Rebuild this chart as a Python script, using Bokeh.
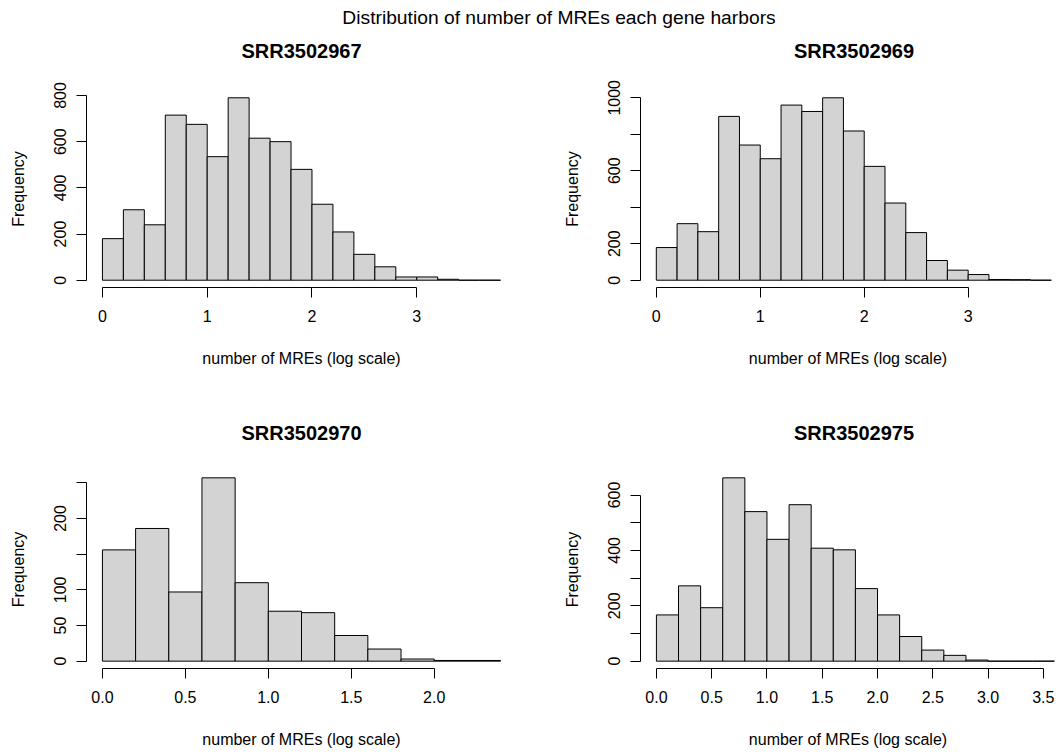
from bokeh.plotting import figure
from bokeh.layouts import column, row
from bokeh.models import FixedTicker, Range1d, NumeralTickFormatter, ColumnDataSource, Label
from bokeh.embed import file_html
from bokeh.resources import INLINE

MAIN_TITLE = "Distribution of number of MREs each gene harbors"
X_LABEL = "number of MREs (log scale)"
Y_LABEL = "Frequency"
SAMPLES = ["SRR3502967", "SRR3502969", "SRR3502970", "SRR3502975"]

# histogram bin edges (log10 scale) and counts
EDGES_1 = [0.0, 0.2, 0.4, 0.6, 0.8, 1.0, 1.2, 1.4, 1.6, 1.8, 2.0, 2.2, 2.4, 2.6, 2.8, 3.0, 3.2, 3.4, 3.6, 3.8]
COUNTS_1 = [180, 305, 240, 715, 675, 535, 790, 615, 600, 480, 329, 209, 112, 58, 14, 14, 4, 0, 0]

EDGES_2 = [0.0, 0.2, 0.4, 0.6, 0.8, 1.0, 1.2, 1.4, 1.6, 1.8, 2.0, 2.2, 2.4, 2.6, 2.8, 3.0, 3.2, 3.4, 3.6, 3.8]
COUNTS_2 = [179, 310, 266, 898, 741, 666, 960, 925, 1000, 818, 624, 423, 261, 108, 55, 31, 4, 3, 0]

EDGES_3 = [0.0, 0.2, 0.4, 0.6, 0.8, 1.0, 1.2, 1.4, 1.6, 1.8, 2.0, 2.2, 2.4]
COUNTS_3 = [156, 186, 97, 257, 110, 70, 68, 36, 17, 3, 1, 1]

EDGES_4 = [0.0, 0.2, 0.4, 0.6, 0.8, 1.0, 1.2, 1.4, 1.6, 1.8, 2.0, 2.2, 2.4, 2.6, 2.8, 3.0, 3.2, 3.4, 3.6]
COUNTS_4 = [167, 272, 193, 662, 540, 440, 565, 408, 402, 262, 167, 89, 40, 21, 4, 0, 0, 0]

X_TICKS_1 = [0, 1, 2, 3]
X_TICKS_2 = [0, 1, 2, 3]
X_TICKS_3 = [0.0, 0.5, 1.0, 1.5, 2.0]
X_TICKS_4 = [0.0, 0.5, 1.0, 1.5, 2.0, 2.5, 3.0, 3.5]

Y_TICKS_1 = [0, 200, 400, 600, 800]
Y_TICKS_2 = [0, 200, 400, 600, 800, 1000]
Y_TICKS_3 = [0, 50, 100, 150, 200, 250]
Y_TICKS_4 = [0, 100, 200, 300, 400, 500, 600]

# y tick labels that R dropped because they would overlap
Y_HIDDEN_1 = []
Y_HIDDEN_2 = [400, 800]
Y_HIDDEN_3 = [150, 250]
Y_HIDDEN_4 = [100, 300, 500]

FONT = "Liberation Sans"
W = 1057


def make_panel(edges, counts, xticks, yticks, yhidden, xfmt, x_end,
               width, height, b_left, b_right, b_top, b_bottom):
    span = edges[-1] - edges[0]
    x_start = edges[0] - 0.04 * span
    if x_end is None:
        x_end = edges[-1] + 0.04 * span
    ymax = max(counts)
    p = figure(width=width, height=height, output_backend="svg", toolbar_location=None,
               x_range=Range1d(x_start, x_end), y_range=Range1d(-0.04 * ymax, 1.04 * ymax),
               min_border_left=b_left, min_border_right=b_right,
               min_border_top=b_top, min_border_bottom=b_bottom)
    p.outline_line_color = None
    p.background_fill_color = "white"
    p.border_fill_color = "white"
    p.grid.visible = False

    src = ColumnDataSource(dict(left=edges[:-1], right=edges[1:], top=counts,
                                bottom=[0] * len(counts)))
    p.quad(left="left", right="right", top="top", bottom="bottom", source=src,
           fill_color="#D3D3D3", line_color="black", line_width=1)

    for ax in (p.xaxis[0], p.yaxis[0]):
        ax.axis_line_color = "black"
        ax.axis_line_width = 1
        ax.major_tick_out = 10
        ax.major_tick_in = 0
        ax.major_tick_line_color = "black"
        ax.minor_tick_line_color = None
        ax.major_label_text_font = FONT
        ax.major_label_text_font_size = "16px"
        ax.major_label_text_color = "black"
        ax.axis_label_text_font = FONT
        ax.axis_label_text_font_size = "16px"
        ax.axis_label_text_font_style = "normal"
        ax.axis_label_text_color = "black"

    xa = p.xaxis[0]
    xa.ticker = FixedTicker(ticks=xticks)
    xa.bounds = (xticks[0], xticks[-1])
    xa.formatter = NumeralTickFormatter(format=xfmt)
    xa.axis_label = X_LABEL
    xa.major_label_standoff = 12
    xa.axis_label_standoff = 25

    ya = p.yaxis[0]
    ya.ticker = FixedTicker(ticks=yticks)
    ya.bounds = (yticks[0], yticks[-1])
    ya.major_label_orientation = "vertical"
    ya.major_label_overrides = {t: "" for t in yhidden}
    ya.axis_label = Y_LABEL
    ya.major_label_standoff = 10
    ya.axis_label_standoff = 25
    return p


def band(height):
    b = figure(width=W, height=height, output_backend="svg", toolbar_location=None,
               x_axis_location=None, y_axis_location=None,
               x_range=Range1d(0, W), y_range=Range1d(height, 0),
               min_border_left=0, min_border_right=0, min_border_top=0, min_border_bottom=0)
    b.outline_line_color = None
    b.grid.visible = False
    return b


def panel_title(b, text, x, y):
    b.add_layout(Label(x=x, y=y, text=text, text_align="center", text_baseline="alphabetic",
                       text_font=FONT, text_font_size="20px", text_font_style="bold",
                       text_color="black"))


# top band: overall title + titles of the upper panels (y measured downward)
top_band = band(63)
top_band.add_layout(Label(x=558.5, y=16.5, text=MAIN_TITLE, text_align="center",
                          text_baseline="alphabetic", text_font=FONT,
                          text_font_size="19.25px", text_color="black"))
panel_title(top_band, SAMPLES[0], 301, 50.3)
panel_title(top_band, SAMPLES[1], 853.5, 50.3)

p1 = make_panel(EDGES_1, COUNTS_1, X_TICKS_1, Y_TICKS_1, Y_HIDDEN_1, "0", None,
                528, 327, 86, 12, 27, 103)
p2 = make_panel(EDGES_2, COUNTS_2, X_TICKS_2, Y_TICKS_2, Y_HIDDEN_2, "0", 3.84,
                529, 327, 112, 2, 27, 103)

mid_band = band(60)
panel_title(mid_band, SAMPLES[2], 301, 42.3)
panel_title(mid_band, SAMPLES[3], 853.5, 42.3)

p3 = make_panel(EDGES_3, COUNTS_3, X_TICKS_3, Y_TICKS_3, Y_HIDDEN_3, "0.0", None,
                528, 303, 86, 12, 20, 85)
p4 = make_panel(EDGES_4, COUNTS_4, X_TICKS_4, Y_TICKS_4, Y_HIDDEN_4, "0.0", 3.61,
                529, 303, 112, 2, 20, 85)

layout = column(top_band, row(p1, p2), mid_band, row(p3, p4))

open("out.html", "w").write(file_html(layout, INLINE))
